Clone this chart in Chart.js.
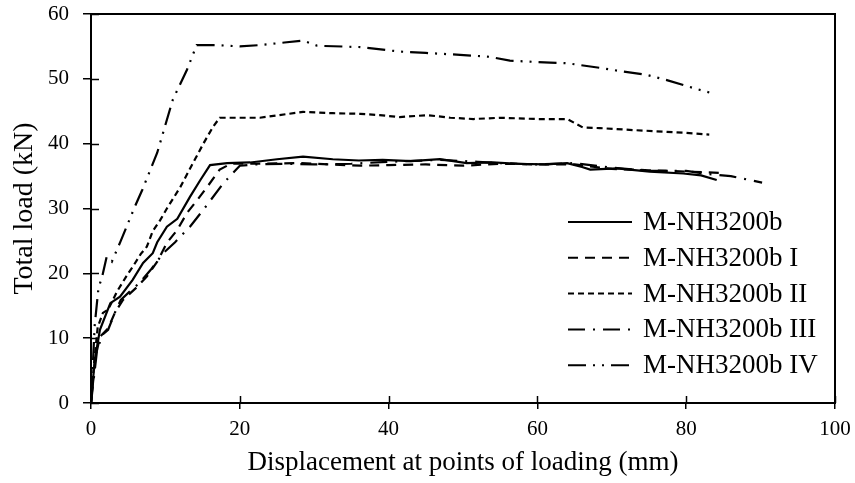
<!DOCTYPE html>
<html>
<head>
<meta charset="utf-8">
<script src="https://cdn.jsdelivr.net/npm/chart.js@4/dist/chart.umd.min.js"></script>
<style>
  html, body { margin: 0; padding: 0; background: #fff; }
  #wrap { width: 855px; height: 483px; }
</style>
</head>
<body>
<div id="wrap"><canvas id="loadChart" width="855" height="483"></canvas></div>
<script>
// displacement (mm) / total load (kN) for each beam
const dispA = [0, 0.5, 1.2, 2.6, 3.9, 5.6, 7.0, 8.3, 8.9, 10.2, 11.6, 13.3, 14.7, 16.0, 18.3, 21.4, 25.0, 28.5, 32.5, 36.0, 39.2, 43.0, 46.9, 50.5, 54.0, 57.3, 61.0, 64.0, 66.0, 67.1, 70.7, 75.1, 79.6, 82.0, 84.1];
const loadA = [0, 6.6, 11.3, 15.4, 16.4, 19.0, 21.6, 23.1, 24.8, 27.2, 28.4, 31.8, 34.4, 36.7, 37.0, 37.1, 37.6, 38.0, 37.6, 37.4, 37.5, 37.3, 37.6, 37.0, 37.1, 36.9, 36.8, 37.0, 36.4, 36.0, 36.2, 35.7, 35.4, 35.1, 34.4];

const dispB = [0, 0.6, 1.2, 2.3, 3.2, 4.3, 6.2, 7.5, 8.9, 10.2, 11.6, 12.9, 14.2, 15.6, 17.3, 18.8, 22.0, 28.0, 32.0, 36.2, 40.0, 45.0, 50.0, 55.0, 60.0, 65.0, 70.0, 75.0, 80.0, 84.5];
const loadB = [0, 7.0, 10.2, 11.5, 13.9, 15.9, 17.9, 19.5, 21.8, 24.7, 26.7, 29.3, 31.2, 33.3, 36.0, 36.9, 36.9, 37.0, 36.8, 36.6, 36.7, 36.8, 36.6, 36.9, 36.8, 36.8, 36.1, 35.9, 35.7, 35.5];

const dispC = [0, 0.4, 0.9, 1.6, 2.3, 3.5, 5.0, 5.6, 6.7, 7.5, 8.3, 9.3, 10.2, 12.0, 13.7, 15.1, 16.4, 17.3, 22.7, 28.5, 32.5, 36.2, 38.8, 41.5, 45.2, 48.3, 51.4, 55.0, 60.0, 64.0, 66.1, 68.4, 72.8, 79.6, 83.1];
const loadC = [0, 6.0, 11.7, 13.9, 14.4, 17.2, 20.0, 21.0, 23.0, 24.1, 26.5, 28.2, 30.0, 33.3, 37.0, 40.0, 42.6, 44.0, 44.0, 44.9, 44.7, 44.6, 44.4, 44.1, 44.4, 44.0, 43.8, 44.0, 43.8, 43.8, 42.5, 42.4, 42.1, 41.7, 41.4];

const dispD = [0, 0.8, 1.5, 2.3, 3.2, 4.0, 5.5, 6.5, 8.0, 9.7, 11.3, 13.3, 15.1, 17.8, 20.0, 22.0, 26.0, 30.0, 35.0, 40.0, 47.0, 52.0, 55.0, 60.0, 65.0, 70.0, 75.0, 80.0, 83.0, 86.0, 90.2];
const loadD = [0, 8.0, 10.5, 11.3, 13.9, 15.9, 17.5, 18.5, 20.5, 23.1, 24.8, 27.2, 29.8, 33.9, 36.6, 36.8, 36.9, 36.8, 36.9, 37.2, 37.5, 37.2, 37.0, 36.8, 37.0, 36.3, 35.8, 35.8, 35.3, 35.0, 34.0];

const dispE = [0, 0.5, 1.0, 1.5, 2.1, 2.8, 4.0, 5.9, 6.9, 8.9, 11.0, 12.9, 14.2, 17.0, 20.0, 22.7, 26.0, 28.5, 30.4, 36.2, 41.5, 45.0, 49.6, 53.6, 56.3, 61.7, 64.0, 68.4, 71.1, 74.7, 77.4, 81.5, 83.1];
const loadE = [0, 12.0, 17.7, 19.5, 22.5, 21.8, 25.0, 30.3, 32.9, 38.6, 46.8, 51.4, 55.2, 55.2, 55.0, 55.2, 55.6, 55.9, 55.1, 54.9, 54.2, 54.0, 53.7, 53.4, 52.8, 52.5, 52.4, 51.7, 51.2, 50.6, 49.8, 48.4, 47.9];

const seriesNames = ['M-NH3200b', 'M-NH3200b I', 'M-NH3200b II', 'M-NH3200b III', 'M-NH3200b IV'];
const dashes = [[], [10, 7], [6, 4], [17, 8, 2, 8], [18, 7, 2, 7, 2, 7]];
const seriesX = [dispA, dispB, dispC, dispD, dispE];
const seriesY = [loadA, loadB, loadC, loadD, loadE];

const serif = "'Liberation Serif', 'Times New Roman', serif";

function pairs(xs, ys) {
    return xs.map((x, i) => ({ x: x, y: ys[i] }));
}

// box round the plot plus the inner half of each tick mark
const frame = {
    id: 'frame',
    afterDraw(chart) {
        const ctx = chart.ctx;
        const a = chart.chartArea;
        ctx.save();
        ctx.strokeStyle = '#000';
        ctx.lineWidth = 2;
        ctx.strokeRect(a.left, a.top, a.right - a.left, a.bottom - a.top);
        ctx.lineWidth = 1.5;
        ctx.beginPath();
        chart.scales.x.ticks.forEach(t => {
            const px = Math.round(chart.scales.x.getPixelForValue(t.value)) + 0.5;
            ctx.moveTo(px, a.bottom);
            ctx.lineTo(px, a.bottom - 7);
        });
        chart.scales.y.ticks.forEach(t => {
            const py = Math.round(chart.scales.y.getPixelForValue(t.value)) + 0.5;
            ctx.moveTo(a.left, py);
            ctx.lineTo(a.left + 8, py);
        });
        ctx.stroke();
        ctx.restore();
    }
};

// legend drawn inside the plot, lower right
const sampleLegend = {
    id: 'sampleLegend',
    afterDraw(chart) {
        const ctx = chart.ctx;
        const a = chart.chartArea;
        ctx.save();
        ctx.font = '27px ' + serif;
        ctx.textBaseline = 'middle';
        ctx.fillStyle = '#000';
        chart.data.datasets.forEach((ds, i) => {
            const y = a.top + 208 + i * 35.8;
            ctx.strokeStyle = '#000';
            ctx.lineWidth = 2;
            ctx.lineCap = 'butt';
            ctx.setLineDash(ds.borderDash);
            ctx.beginPath();
            ctx.moveTo(a.left + 477, y);
            ctx.lineTo(a.left + 541, y);
            ctx.stroke();
            ctx.setLineDash([]);
            ctx.fillText(ds.label, a.left + 552, y + 1);
        });
        ctx.restore();
    }
};

const datasets = seriesNames.map((name, i) => ({
    label: name,
    data: pairs(seriesX[i], seriesY[i]),
    borderColor: '#000',
    borderWidth: 2.2,
    borderDash: dashes[i],
    borderCapStyle: 'butt',
    pointRadius: 0,
    tension: 0,
    fill: false
}));

new Chart(document.getElementById('loadChart').getContext('2d'), {
    type: 'line',
    data: { datasets: datasets },
    options: {
        responsive: false,
        animation: false,
        layout: { padding: { left: 0, top: 14, right: 20, bottom: 0 } },
        plugins: {
            legend: { display: false },
            tooltip: { enabled: false }
        },
        scales: {
            x: {
                type: 'linear',
                min: 0,
                max: 100,
                ticks: { stepSize: 20, color: '#000', padding: 8, font: { family: serif, size: 21 } },
                grid: { drawOnChartArea: false, tickLength: 6, color: '#000', lineWidth: 1.5 },
                border: { color: '#000', width: 2 },
                title: {
                    display: true,
                    text: 'Displacement at points of loading (mm)',
                    color: '#000',
                    font: { family: serif, size: 27 },
                    padding: { top: 0, bottom: 4 }
                },
                afterFit(scale) {
                    scale.height = 80;
                    scale.paddingLeft = 0;
                    scale.paddingRight = 0;
                }
            },
            y: {
                min: 0,
                max: 60,
                ticks: { stepSize: 10, color: '#000', padding: 14, font: { family: serif, size: 21 } },
                grid: { drawOnChartArea: false, tickLength: 8, color: '#000', lineWidth: 1.5 },
                border: { color: '#000', width: 2 },
                title: {
                    display: true,
                    text: 'Total load (kN)',
                    color: '#000',
                    font: { family: serif, size: 28 },
                    padding: { top: 8, bottom: 0 }
                },
                afterFit(scale) {
                    scale.width = 91;
                    scale.paddingTop = 0;
                    scale.paddingBottom = 0;
                }
            }
        }
    },
    plugins: [frame, sampleLegend]
});
</script>
</body>
</html>
